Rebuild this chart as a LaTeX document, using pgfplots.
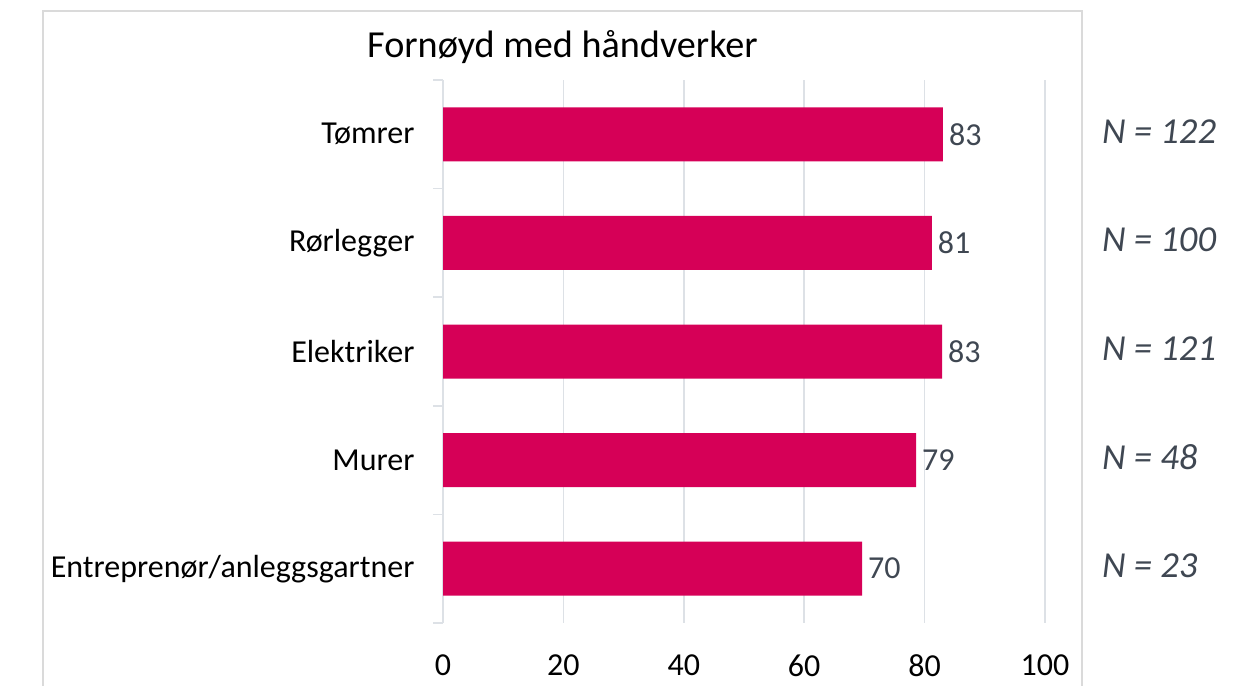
\documentclass[border=0pt]{standalone}
\usepackage{fontspec}
\setmainfont{Carlito}
\usepackage{pgfplots}
\pgfplotsset{compat=1.18}
\definecolor{barcol}{HTML}{D60057}
\definecolor{gridcol}{HTML}{DDE1E6}
\definecolor{labcol}{HTML}{3F4752}
\definecolor{framecol}{HTML}{DADADA}
\tikzset{nlab/.style={anchor=west, font=\fontsize{18.3}{21}\selectfont\itshape, text=labcol, yshift=1.5pt}}
\begin{document}
\begin{tikzpicture}[x=1pt,y=1pt]
\path[use as bounding box] (0,0) rectangle (625.5,342.5);
\draw[framecol, line width=0.6pt] (21.5,-5) rectangle (541,337);
\node[font=\fontsize{19.1}{22}\selectfont] at (281.25,319) {Fornøyd med håndverker};
\begin{axis}[
  at={(221.5pt,31pt)}, anchor=south west,
  scale only axis, width=301pt, height=271.5pt,
  xmin=0, xmax=100, ymin=0.5, ymax=5.5,
  y dir=reverse,
  clip=false,
  axis lines*=left,
  x axis line style={draw=none},
  y axis line style={draw=gridcol, line width=0.8pt},
  xtick={0,20,40,60,80,100},
  xmajorgrids, grid style={draw=gridcol, line width=0.8pt},
  major x tick style={draw=none},
  ytick={1,2,3,4,5},
  yticklabels={Tømrer,Rørlegger,Elektriker,Murer,Entreprenør/anleggsgartner},
  major y tick style={draw=none},
  minor ytick={0.5,1.5,2.5,3.5,4.5,5.5},
  minor y tick style={draw=gridcol, line width=0.8pt},
  minor tick length=5pt,
  tick align=outside,
  /pgf/number format/assume math mode=true,
  tick label style={font=\fontsize{16}{19}\selectfont, text=black},
  xticklabel style={yshift=-8pt},
  yticklabel style={xshift=-6.5pt},
  xbar, bar width=27pt, bar shift=0pt,
  nodes near coords,
  point meta=explicit symbolic,
  every node near coord/.append style={font=\fontsize{16}{19}\selectfont, text=labcol, anchor=west, xshift=-0.5pt},
]
\addplot[fill=barcol, draw=none] coordinates {
  (83.05,1) [83]
  (81.2,2) [81]
  (82.9,3) [83]
  (78.6,4) [79]
  (69.6,5) [70]
};
\node[nlab] at (axis cs:108.3,1) {N = 122};
\node[nlab] at (axis cs:108.3,2) {N = 100};
\node[nlab] at (axis cs:108.3,3) {N = 121};
\node[nlab] at (axis cs:108.3,4) {N = 48};
\node[nlab] at (axis cs:108.3,5) {N = 23};
\end{axis}
\end{tikzpicture}
\end{document}
